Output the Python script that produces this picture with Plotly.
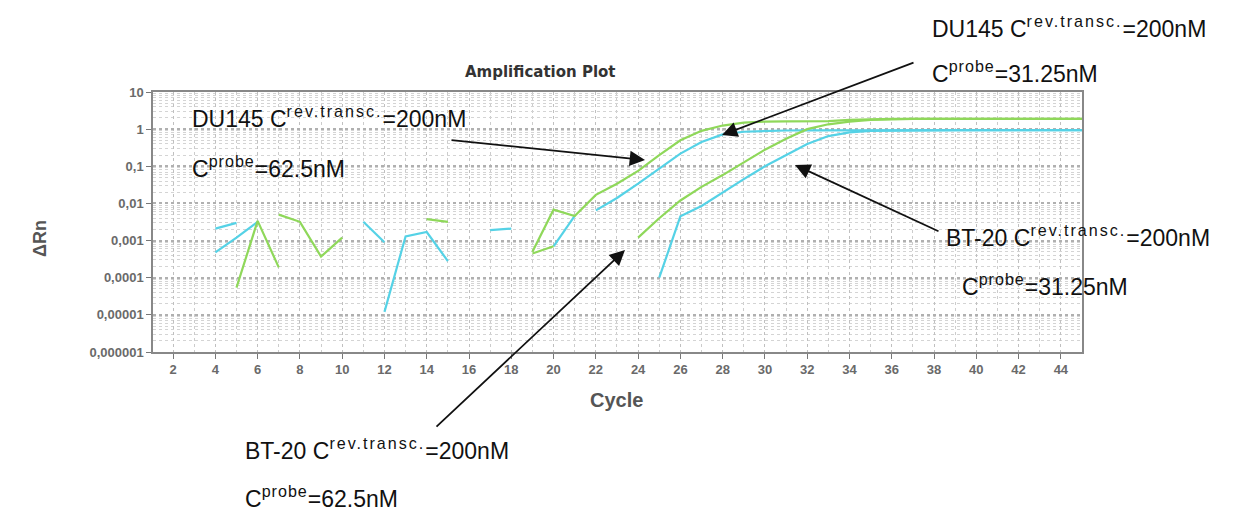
import plotly.graph_objects as go

# ---------------- data ----------------
du145_green_cycles = list(range(19, 46))
du145_green = [0.0005, 0.0068, 0.0046, 0.017, 0.034, 0.075, 0.2, 0.5, 0.9, 1.25,
               1.5, 1.6, 1.62, 1.63, 1.65, 1.78, 1.88, 1.9, 1.9, 1.9, 1.9, 1.9,
               1.9, 1.9, 1.9, 1.9, 1.9]

du145_cyan_cycles = list(range(22, 46))
du145_cyan = [0.0065, 0.014, 0.034, 0.085, 0.22, 0.45, 0.72, 0.85, 0.9, 0.92,
              0.93, 0.93, 0.94, 0.94, 0.94, 0.94, 0.94, 0.94, 0.94, 0.94,
              0.94, 0.94, 0.94, 0.94]

bt20_green_cycles = list(range(24, 46))
bt20_green = [0.0012, 0.004, 0.012, 0.028, 0.058, 0.125, 0.28, 0.55, 1.0, 1.35,
              1.6, 1.78, 1.86, 1.9, 1.9, 1.9, 1.9, 1.9, 1.9, 1.9, 1.9, 1.9]

bt20_cyan_cycles = list(range(25, 46))
bt20_cyan = [0.0001, 0.0045, 0.0085, 0.02, 0.045, 0.1, 0.2, 0.4, 0.65, 0.82,
             0.9, 0.92, 0.93, 0.93, 0.94, 0.94, 0.94, 0.94, 0.94, 0.94, 0.94]

# background noise fragments (early cycles)
noise_cyan_1_cycles = [4, 5]
noise_cyan_1 = [0.0021, 0.003]
noise_cyan_2_cycles = [4, 5, 6]
noise_cyan_2 = [0.00048, 0.0012, 0.0032]
noise_cyan_3_cycles = [11, 12]
noise_cyan_3 = [0.0032, 0.0009]
noise_cyan_4_cycles = [12, 13, 14, 15]
noise_cyan_4 = [0.000012, 0.0013, 0.0017, 0.00028]
noise_cyan_5_cycles = [17, 18]
noise_cyan_5 = [0.0019, 0.0021]
noise_cyan_6_cycles = [20, 21]
noise_cyan_6 = [0.0007, 0.0046]

noise_green_1_cycles = [5, 6, 7]
noise_green_1 = [0.000054, 0.0034, 0.00019]
noise_green_2_cycles = [7, 8, 9, 10]
noise_green_2 = [0.005, 0.0032, 0.00037, 0.0012]
noise_green_3_cycles = [14, 15]
noise_green_3 = [0.0038, 0.0032]
noise_green_4_cycles = [19, 20]
noise_green_4 = [0.00045, 0.0007]

y_tickvals = [10, 1, 0.1, 0.01, 0.001, 0.0001, 0.00001, 0.000001]
y_ticktext = ["10", "1", "0,1", "0,01", "0,001", "0,0001", "0,00001", "0,000001"]

GREEN = "#8fd85a"
CYAN = "#55d2e6"

OFF = 8                       # page body margin
W, H = 1245 - OFF, 511 - OFF
L, R, T, B = 153, 1082, 92, 352   # plot area in page pixels

fig = go.Figure()

series = [
    (noise_cyan_1_cycles, noise_cyan_1, CYAN),
    (noise_cyan_2_cycles, noise_cyan_2, CYAN),
    (noise_cyan_3_cycles, noise_cyan_3, CYAN),
    (noise_cyan_4_cycles, noise_cyan_4, CYAN),
    (noise_cyan_5_cycles, noise_cyan_5, CYAN),
    (noise_cyan_6_cycles, noise_cyan_6, CYAN),
    (noise_green_1_cycles, noise_green_1, GREEN),
    (noise_green_2_cycles, noise_green_2, GREEN),
    (noise_green_3_cycles, noise_green_3, GREEN),
    (noise_green_4_cycles, noise_green_4, GREEN),
    (du145_cyan_cycles, du145_cyan, CYAN),
    (bt20_cyan_cycles, bt20_cyan, CYAN),
    (du145_green_cycles, du145_green, GREEN),
    (bt20_green_cycles, bt20_green, GREEN),
]
for cx, cy, col in series:
    fig.add_trace(go.Scatter(x=cx, y=cy, mode="lines",
                             line=dict(color=col, width=2.2),
                             showlegend=False, hoverinfo="skip"))

FAM = "Liberation Sans, Arial, sans-serif"
TXT_FONT = dict(family=FAM, size=23, color="#111")
SUP_REV = '<sup><span style="letter-spacing:2px">rev.transc.</span></sup>'
SUP_PRB = '<sup><span style="letter-spacing:1px">probe</span></sup>'


def px2paper(px, py):
    return (px - L) / (R - L), (B - py) / (B - T)


def label(px, py, text):
    x, y = px2paper(px, py)
    fig.add_annotation(x=x, y=y, xref="paper", yref="paper", text=text,
                       showarrow=False, xanchor="left", yanchor="middle",
                       font=TXT_FONT)


label(190, 117, "DU145 C" + SUP_REV + "=200nM")
label(190, 167, "C" + SUP_PRB + "=62.5nM")
label(930, 27, "DU145 C" + SUP_REV + "=200nM")
label(930, 72, "C" + SUP_PRB + "=31.25nM")
label(944, 236, "BT-20 C" + SUP_REV + "=200nM")
label(960, 285, "C" + SUP_PRB + "=31.25nM")
label(243, 449, "BT-20 C" + SUP_REV + "=200nM")
label(243, 497, "C" + SUP_PRB + "=62.5nM")


def arrow(tip_px, tip_py, tail_px, tail_py):
    x, y = px2paper(tip_px, tip_py)
    fig.add_annotation(x=x, y=y, xref="paper", yref="paper", text="",
                       showarrow=True, ax=tail_px - tip_px, ay=tail_py - tip_py,
                       arrowhead=2, arrowsize=1.7, arrowwidth=1.8,
                       arrowcolor="#111")


arrow(645, 160, 450, 140)
arrow(722, 135, 915, 62)
arrow(795, 165, 940, 232)
arrow(625, 250, 435, 428)

tx, ty = px2paper(540, 72)
fig.add_annotation(x=tx, y=ty, xref="paper", yref="paper",
                   text="<b>Amplification Plot</b>", showarrow=False,
                   xanchor="center", yanchor="middle",
                   font=dict(family="DejaVu Sans, sans-serif", size=15,
                             color="#333"))

ax_, ay_ = px2paper(40, 239)
fig.add_annotation(x=ax_, y=ay_, xref="paper", yref="paper",
                   text="<b>ΔRn</b>", showarrow=False, textangle=-90,
                   xanchor="center", yanchor="middle",
                   font=dict(family=FAM, size=18, color="#555"))

cx_, cy_ = px2paper(616, 400)
fig.add_annotation(x=cx_, y=cy_, xref="paper", yref="paper",
                   text="<b>Cycle</b>", showarrow=False,
                   xanchor="center", yanchor="middle",
                   font=dict(family=FAM, size=20, color="#555"))

TICK_FONT = dict(family=FAM, size=13, color="#6a6a6a", weight="bold")

fig.update_layout(
    width=W, height=H,
    margin=dict(l=L - OFF, r=W - (R - OFF), t=T - OFF, b=H - (B - OFF)),
    paper_bgcolor="white", plot_bgcolor="white",
    xaxis=dict(range=[1.05, 45.0], tick0=0, dtick=2,
               showgrid=True, gridcolor="#c0c0c0", griddash="dot", gridwidth=1,
               minor=dict(dtick=1, tick0=0, showgrid=True, gridcolor="#cccccc",
                          griddash="dot", gridwidth=1),
               ticks="outside", ticklen=5, tickcolor="#777",
               showline=True, linecolor="#888", linewidth=1.5, mirror=True,
               tickfont=TICK_FONT, zeroline=False),
    yaxis=dict(type="log", range=[-6, 1], tickvals=y_tickvals,
               ticktext=y_ticktext,
               showgrid=True, gridcolor="#b0b0b0", griddash="dot", gridwidth=1.5,
               minor=dict(dtick="D1", showgrid=True, gridcolor="#d4d4d4",
                          griddash="dot", gridwidth=1),
               ticks="outside", ticklen=5, tickcolor="#777",
               showline=True, linecolor="#888", linewidth=1.5, mirror=True,
               tickfont=TICK_FONT, zeroline=False),
)

fig.write_html("out.html")
